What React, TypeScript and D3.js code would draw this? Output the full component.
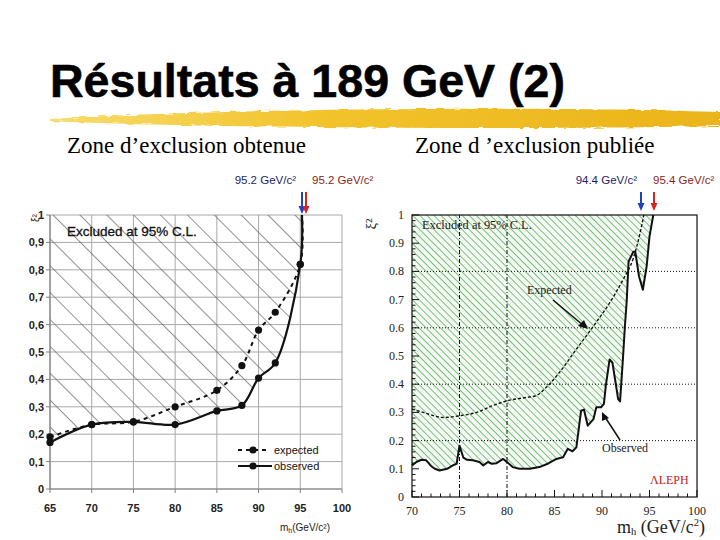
import React from "react";
import * as d3 from "d3";

// ---- left chart (our analysis) ----
const leftMass = [65, 70, 75, 80, 85, 88, 90, 92, 95];
const leftExpected = [0.19, 0.235, 0.245, 0.3, 0.36, 0.45, 0.58, 0.645, 0.82];
const leftObserved = [0.17, 0.235, 0.245, 0.235, 0.285, 0.305, 0.405, 0.46, 0.82];
const leftLimit = 95.2; // both curves reach 1 here
const leftXTicks = [65, 70, 75, 80, 85, 90, 95, 100];
const leftYTicks = [0, 0.1, 0.2, 0.3, 0.4, 0.5, 0.6, 0.7, 0.8, 0.9, 1];

// ---- right chart (ALEPH published) ----
const rightObsMass = [70, 70.5, 71, 71.5, 72, 72.4, 72.9, 73.7, 74.3, 74.7, 75, 75.4, 75.8, 76.4, 77.1, 77.5, 78, 78.4, 78.9, 79.6, 80.1, 80.6, 81.3, 82.4, 83.4, 84.3, 85.2, 85.9, 86.4, 86.9, 87.3, 87.8, 88.1, 88.5, 89.1, 89.4, 89.9, 90.2, 90.4, 90.8, 91.1, 91.7, 91.9, 92.2, 92.4, 92.6, 92.8, 93.3, 93.5, 93.9, 94.3, 94.7, 95.0, 95.4];
const rightObsXi = [0.112, 0.125, 0.132, 0.13, 0.11, 0.1, 0.094, 0.1, 0.112, 0.118, 0.182, 0.14, 0.132, 0.13, 0.124, 0.112, 0.124, 0.118, 0.12, 0.135, 0.121, 0.106, 0.1, 0.1, 0.106, 0.118, 0.135, 0.141, 0.171, 0.162, 0.176, 0.306, 0.31, 0.253, 0.276, 0.318, 0.318, 0.33, 0.394, 0.488, 0.476, 0.347, 0.339, 0.488, 0.6, 0.694, 0.835, 0.87, 0.87, 0.782, 0.735, 0.818, 0.924, 1.0];
const rightExpMass = [70, 71.2, 73.3, 75, 76.8, 78.5, 80, 82, 83.1, 84.1, 85.5, 87.3, 89.1, 90.8, 92.2, 93.3, 94, 94.4];
const rightExpXi = [0.312, 0.3, 0.282, 0.288, 0.3, 0.324, 0.341, 0.353, 0.36, 0.388, 0.441, 0.524, 0.606, 0.688, 0.77, 0.847, 0.935, 1.0];
const rightXTicks = [70, 75, 80, 85, 90, 95, 100];
const rightYTicks = [0, 0.1, 0.2, 0.3, 0.4, 0.5, 0.6, 0.7, 0.8, 0.9, 1];
const rightGridY = [0.2, 0.4, 0.6, 0.8];
const rightGridX = [75, 80];

type P = [number, number];

const SANS = "'Liberation Sans', Arial, sans-serif";
const SERIF = "'Liberation Serif', 'Times New Roman', serif";

const Arrow = ({ x, y1, y2, color }: { x: number; y1: number; y2: number; color: string }) => (
  <g>
    <line x1={x} x2={x} y1={y1} y2={y2 - 6} stroke={color} strokeWidth={2} />
    <polygon points={`${x - 3.5},${y2 - 8} ${x + 3.5},${y2 - 8} ${x},${y2}`} fill={color} />
  </g>
);

const App: React.FC = () => {
  // scales
  const lx = d3.scaleLinear().domain([65, 100]).range([50, 342]);
  const ly = d3.scaleLinear().domain([0, 1]).range([489, 215]);
  const rx = d3.scaleLinear().domain([70, 100]).range([412, 697]);
  const ry = d3.scaleLinear().domain([0, 1]).range([497, 215]);

  const lExpPts: P[] = leftMass.map((m, i) => [m, leftExpected[i]] as P).concat([[leftLimit, 1]]);
  const lObsPts: P[] = leftMass.map((m, i) => [m, leftObserved[i]] as P).concat([[leftLimit, 1]]);

  const lLine = d3.line<P>().x((d) => lx(d[0])).y((d) => ly(d[1])).curve(d3.curveCatmullRom.alpha(0.5));
  const lArea = d3.area<P>().x((d) => lx(d[0])).y0(ly(1)).y1((d) => ly(d[1])).curve(d3.curveCatmullRom.alpha(0.5));

  const rObsPts: P[] = rightObsMass.map((m, i) => [m, rightObsXi[i]] as P);
  const rExpPts: P[] = rightExpMass.map((m, i) => [m, rightExpXi[i]] as P);
  const rObsLine = d3.line<P>().x((d) => rx(d[0])).y((d) => ry(d[1]));
  const rObsArea = d3.area<P>().x((d) => rx(d[0])).y0(ry(1)).y1((d) => ry(d[1]));
  const rExpLine = d3.line<P>().x((d) => rx(d[0])).y((d) => ry(d[1])).curve(d3.curveMonotoneX);

  const commaFmt = (v: number) => (v === 0 || v === 1 ? String(v) : d3.format(".1f")(v).replace(".", ","));
  const dotFmt = (v: number) => (v === 0 || v === 1 ? String(v) : d3.format(".1f")(v));

  const rMinorY = d3.range(0, 1.0001, 0.02);
  const rMinorX = d3.range(70, 100.001, 1);

  return (
    <svg
      width={720}
      height={540}
      style={{ position: "absolute", left: 0, top: 0, display: "block", background: "#fff" }}
    >
      <defs>
        <pattern id="hatchL" width={19} height={19} patternUnits="userSpaceOnUse" patternTransform="rotate(45)">
          <line x1={0} x2={19} y1={0.5} y2={0.5} stroke="#666" strokeWidth={0.7} />
        </pattern>
        <pattern id="hatchR" width={5} height={5} patternUnits="userSpaceOnUse" patternTransform="rotate(45)">
          <rect width={5} height={5} fill="#fff" />
          <line x1={0} x2={5} y1={0.6} y2={0.6} stroke="#62bb62" strokeWidth={1} />
          <line x1={0} x2={5} y1={3.1} y2={3.1} stroke="#a8a8a8" strokeWidth={0.5} strokeDasharray="1 1.5" />
        </pattern>
        <linearGradient id="brush" x1="0" x2="1" y1="0" y2="0">
          <stop offset="0" stopColor="#f7dc6a" />
          <stop offset="0.4" stopColor="#f2c32c" />
          <stop offset="1" stopColor="#ebb41a" />
        </linearGradient>
        <filter id="rough" x="-5%" y="-50%" width="110%" height="200%">
          <feTurbulence type="fractalNoise" baseFrequency="0.08 0.6" numOctaves={2} seed={3} />
          <feDisplacementMap in="SourceGraphic" scale={4} />
        </filter>
      </defs>

      {/* title */}
      <text x={50} y={97} fontFamily={SANS} fontWeight="bold" fontSize={46} fill="#000" stroke="#000" strokeWidth={0.6}
        textLength={515} lengthAdjust="spacingAndGlyphs">
        Résultats à 189 GeV (2)
      </text>
      <path
        d="M 50 119 C 120 114, 260 110, 420 109 C 560 108, 660 110, 720 112 L 720 126 C 620 128, 470 129, 320 127 C 200 126, 110 124, 50 121 Z"
        fill="url(#brush)"
        filter="url(#rough)"
      />

      {/* subtitles */}
      <text x={67} y={153} fontFamily={SERIF} fontSize={23}>Zone d’exclusion obtenue</text>
      <text x={415} y={153} fontFamily={SERIF} fontSize={23}>Zone d ’exclusion publiée</text>

      {/* mass annotations */}
      <text x={296} y={184} textAnchor="end" fontFamily={SANS} fontSize={11.5} fill="#1c1c6e">95.2 GeV/c²</text>
      <text x={312} y={184} fontFamily={SANS} fontSize={11.5} fill="#8c1c1c">95.2 GeV/c²</text>
      <text x={637} y={184} textAnchor="end" fontFamily={SANS} fontSize={11.5} fill="#1c1c6e">94.4 GeV/c²</text>
      <text x={653} y={184} fontFamily={SANS} fontSize={11.5} fill="#8c1c1c">95.4 GeV/c²</text>

      {/* ---------- left chart ---------- */}
      <g>
        {leftYTicks.map((t) => (
          <line key={"lgy" + t} x1={lx(65)} x2={lx(100)} y1={ly(t)} y2={ly(t)} stroke="#a8a8a8" strokeWidth={1} />
        ))}
        {leftXTicks.map((t) => (
          <line key={"lgx" + t} x1={lx(t)} x2={lx(t)} y1={ly(0)} y2={ly(1)} stroke="#a8a8a8" strokeWidth={1} />
        ))}
        <path d={lArea(lObsPts) || ""} fill="url(#hatchL)" />
        {/* axes */}
        <line x1={lx(65)} x2={lx(65)} y1={ly(0)} y2={ly(1)} stroke="#808080" strokeWidth={1.2} />
        <line x1={lx(65)} x2={lx(100)} y1={ly(0)} y2={ly(0)} stroke="#808080" strokeWidth={1.2} />
        {leftYTicks.map((t) => (
          <g key={"lty" + t}>
            <line x1={lx(65) - 4} x2={lx(65)} y1={ly(t)} y2={ly(t)} stroke="#808080" />
            <text x={44} y={ly(t) + 4} textAnchor="end" fontFamily={SANS} fontWeight="bold" fontSize={11} fill="#222">
              {commaFmt(t)}
            </text>
          </g>
        ))}
        {leftXTicks.map((t) => (
          <g key={"ltx" + t}>
            <line x1={lx(t)} x2={lx(t)} y1={ly(0)} y2={ly(0) + 4} stroke="#808080" />
            <text x={lx(t)} y={512} textAnchor="middle" fontFamily={SANS} fontWeight="bold" fontSize={11} fill="#222">
              {t}
            </text>
          </g>
        ))}
        <text transform="translate(39,218) rotate(-90)" textAnchor="middle" fontFamily={SANS} fontSize={10} fill="#222">
          ξ²
        </text>
        <text x={305} y={531} textAnchor="middle" fontFamily={SANS} fontSize={10} fill="#222">
          m<tspan fontSize={7} dy={2}>h</tspan><tspan dy={-2}>(GeV/c²)</tspan>
        </text>
        <text x={67} y={236} fontFamily={SANS} fontSize={13.5} fill="#111" stroke="#111" strokeWidth={0.3}>
          Excluded at 95% C.L.
        </text>

        {/* curves */}
        <path d={lLine(lExpPts) || ""} fill="none" stroke="#111" strokeWidth={2} strokeDasharray="4 4" />
        <path d={lLine(lObsPts) || ""} fill="none" stroke="#111" strokeWidth={2.2} />
        {leftMass.map((m, i) => (
          <circle key={"le" + m} cx={lx(m)} cy={ly(leftExpected[i])} r={3.6} fill="#111" />
        ))}
        {leftMass.map((m, i) => (
          <circle key={"lo" + m} cx={lx(m)} cy={ly(leftObserved[i])} r={3.6} fill="#111" />
        ))}

        {/* legend */}
        <line x1={238} x2={268} y1={450} y2={450} stroke="#111" strokeWidth={2} strokeDasharray="4 4" />
        <circle cx={253} cy={450} r={3.6} fill="#111" />
        <text x={274} y={454} fontFamily={SANS} fontSize={11} fill="#111">expected</text>
        <line x1={238} x2={272} y1={466} y2={466} stroke="#111" strokeWidth={2.2} />
        <circle cx={253} cy={466} r={3.6} fill="#111" />
        <text x={274} y={470} fontFamily={SANS} fontSize={11} fill="#111">observed</text>
      </g>

      {/* ---------- right chart ---------- */}
      <g>
        <path d={rObsArea(rObsPts) || ""} fill="url(#hatchR)" />
        {rightGridY.map((t) => (
          <line key={"rgy" + t} x1={rx(70)} x2={rx(100)} y1={ry(t)} y2={ry(t)} stroke="#111" strokeWidth={1} strokeDasharray="1 2" />
        ))}
        {rightGridX.map((t) => (
          <line key={"rgx" + t} x1={rx(t)} x2={rx(t)} y1={ry(0)} y2={ry(1)} stroke="#111" strokeWidth={1} strokeDasharray="4 2 1 2" />
        ))}
        <rect x={rx(70)} y={ry(1)} width={rx(100) - rx(70)} height={ry(0) - ry(1)} fill="none" stroke="#111" strokeWidth={1.2} />
        {rMinorY.map((t, i) => (
          <line key={"rmy" + i} x1={rx(70)} x2={rx(70) + (i % 5 === 0 ? 7 : 3.5)} y1={ry(t)} y2={ry(t)} stroke="#111" strokeWidth={1} />
        ))}
        {rMinorX.map((t, i) => (
          <line key={"rmx" + i} x1={rx(t)} x2={rx(t)} y1={ry(0)} y2={ry(0) - (i % 5 === 0 ? 7 : 3.5)} stroke="#111" strokeWidth={1} />
        ))}
        {rightYTicks.map((t) => (
          <text key={"rty" + t} x={404} y={ry(t) + 4} textAnchor="end" fontFamily={SERIF} fontSize={12} fill="#222">
            {dotFmt(t)}
          </text>
        ))}
        {rightXTicks.map((t) => (
          <text key={"rtx" + t} x={rx(t)} y={515} textAnchor="middle" fontFamily={SERIF} fontSize={12} fill="#222">
            {t}
          </text>
        ))}
        <text transform="translate(376,224) rotate(-90)" textAnchor="middle" fontFamily={SERIF} fontSize={15} fill="#222">
          ξ²
        </text>
        <text x={705} y={533} textAnchor="end" fontFamily={SERIF} fontSize={18} fill="#222">
          m<tspan fontSize={10.5} dy={2}>h</tspan><tspan dy={-2}> (GeV/c</tspan><tspan fontSize={10.5} dy={-7}>2</tspan><tspan dy={7}>)</tspan>
        </text>
        <text x={422} y={229} fontFamily={SERIF} fontSize={12.4} fill="#222">Excluded at 95% C.L.</text>

        <path d={rExpLine(rExpPts) || ""} fill="none" stroke="#111" strokeWidth={1.4} strokeDasharray="3 2" />
        <path d={rObsLine(rObsPts) || ""} fill="none" stroke="#111" strokeWidth={2} strokeLinejoin="round" />

        {/* annotations */}
        <text x={527} y={294} fontFamily={SERIF} fontSize={12} fill="#222">Expected</text>
        <line x1={553} y1={300} x2={584} y2={326} stroke="#111" strokeWidth={1.5} />
        <polygon points="588,329 578,326 584,320" fill="#111" />
        <text x={602} y={452} fontFamily={SERIF} fontSize={12} fill="#222">Observed</text>
        <line x1={620} y1={440} x2={605} y2={417} stroke="#111" strokeWidth={1.5} />
        <polygon points="602,412 609,418 602,421" fill="#111" />
        <text x={650} y={484} fontFamily={SERIF} fontSize={12} fill="#c02020">ΛLEPH</text>
      </g>

      {/* arrows marking the limits */}
      <Arrow x={302} y1={192} y2={214} color="#2340c0" />
      <Arrow x={306} y1={192} y2={214} color="#d42424" />
      <Arrow x={641} y1={192} y2={211} color="#2340c0" />
      <Arrow x={654} y1={192} y2={211} color="#d42424" />
    </svg>
  );
};

export default App;
